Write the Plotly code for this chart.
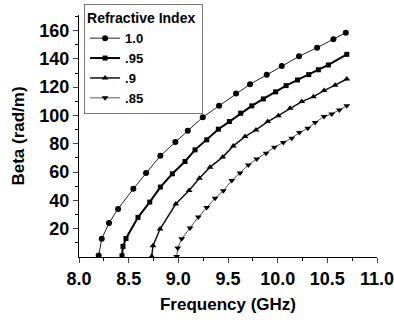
import plotly.graph_objects as go

# Refractive index 1.0
x_10 = [8.198, 8.229, 8.302, 8.393, 8.547, 8.675, 8.819, 8.970, 9.095, 9.246, 9.41, 9.581, 9.722, 9.89, 10.041, 10.215, 10.397, 10.561, 10.686]
y_10 = [1.1, 12.9, 24.0, 34.0, 48.2, 59.3, 71.5, 81.2, 89.3, 98.8, 106.8, 115.5, 122.1, 128.7, 135.0, 141.8, 147.9, 153.8, 158.5]
# Refractive index .95
x_95 = [8.433, 8.443, 8.473, 8.594, 8.712, 8.819, 8.94, 9.067, 9.168, 9.286, 9.403, 9.514, 9.628, 9.739, 9.856, 9.98, 10.085, 10.2, 10.313, 10.41, 10.51, 10.696]
y_95 = [0.9, 7.5, 13.1, 28.0, 38.8, 49.4, 58.8, 67.5, 75.7, 82.8, 90.3, 95.7, 101.6, 106.8, 111.7, 116.7, 121.1, 125.1, 128.9, 132.3, 135.7, 143.2]
# Refractive index .9
x_90 = [8.732, 8.745, 8.816, 8.974, 9.108, 9.212, 9.319, 9.447, 9.554, 9.672, 9.782, 9.90, 10.007, 10.125, 10.243, 10.36, 10.467, 10.578, 10.696]
y_90 = [0.4, 8.0, 19.8, 37.4, 47.0, 55.7, 63.5, 70.6, 78.5, 85.1, 89.8, 95.7, 99.9, 105.1, 109.8, 113.3, 117.6, 121.4, 125.8]
# Refractive index .85
x_85 = [8.984, 8.994, 9.034, 9.118, 9.201, 9.286, 9.37, 9.453, 9.538, 9.621, 9.705, 9.789, 9.883, 9.967, 10.057, 10.142, 10.219, 10.303, 10.377, 10.467, 10.545, 10.621, 10.696]
y_85 = [0.4, 6.4, 12.9, 20.5, 28.2, 35.0, 41.6, 46.8, 54.1, 59.3, 65.1, 69.2, 73.4, 77.6, 80.9, 84.0, 87.9, 91.0, 95.0, 99.2, 101.1, 103.9, 106.8]

x_ticks = [8.0, 8.5, 9.0, 9.5, 10.0, 10.5, 11.0]
x_ticktext = ["8.0", "8.5", "9.0", "9.5", "10.0", "10.5", "11.0"]
y_ticks = [20, 40, 60, 80, 100, 120, 140, 160]

names = ["1.0", ".95", ".9", ".85"]
xs = [x_10, x_95, x_90, x_85]
ys = [y_10, y_95, y_90, y_85]
symbols = ["circle", "square", "triangle-up", "triangle-down"]
widths = [1, 2, 1.5, 1]
lcolors = ["#222", "#000", "#111", "#555"]
msizes = [6, 5, 6, 6]

fig = go.Figure()
for n, x, y, s, w, lc, ms in zip(names, xs, ys, symbols, widths, lcolors, msizes):
    fig.add_trace(go.Scatter(x=x, y=y, name=n, mode="lines+markers",
                             line=dict(color=lc, width=w),
                             marker=dict(symbol=s, size=ms, color="black")))

font = "Liberation Sans, Arial, sans-serif"
fig.update_layout(
    width=394, height=320,
    margin=dict(l=79, r=17, t=4, b=63, autoexpand=False),
    paper_bgcolor="white", plot_bgcolor="white",
    font=dict(family=font, color="black"),
    showlegend=True,
    legend=dict(title=dict(text="<b>Refractive Index</b>&nbsp;", font=dict(size=14)),
                font=dict(size=13, weight="bold"),
                x=0.017, y=1.0, xanchor="left", yanchor="top",
                bordercolor="#777", borderwidth=1, bgcolor="white",
                tracegroupgap=0, itemwidth=30),
)
fig.update_xaxes(range=[8.0, 11.0], tickvals=x_ticks, ticktext=x_ticktext,
                 ticks="outside", ticklen=5, tickwidth=1, showline=True, linecolor="black",
                 linewidth=1, showgrid=False, zeroline=False, automargin=False,
                 ticklabeloverflow="allow",
                 tickfont=dict(size=18, weight="bold"),
                 minor=dict(dtick=0.25, ticks="outside", ticklen=3, tickcolor="black"),
                 title=dict(text="<b>Frequency (GHz)</b>", font=dict(size=17), standoff=10))
fig.update_yaxes(range=[0, 171], tickvals=y_ticks, domain=[0, 0.9565],
                 ticks="outside", ticklen=5, tickwidth=1, showline=True, linecolor="black",
                 linewidth=1, showgrid=False, zeroline=False, automargin=False,
                 ticklabeloverflow="allow",
                 tickfont=dict(size=18, weight="bold"),
                 minor=dict(tickvals=[10, 30, 50, 70, 90, 110, 130, 150, 170], ticks="outside", ticklen=3, tickcolor="black"),
                 title=dict(text="<b>Beta (rad/m)</b>", font=dict(size=17), standoff=10))
fig.write_html("out.html", config={"displayModeBar": False},
               post_script="document.body.style.margin='0';document.body.style.overflow='hidden';")
